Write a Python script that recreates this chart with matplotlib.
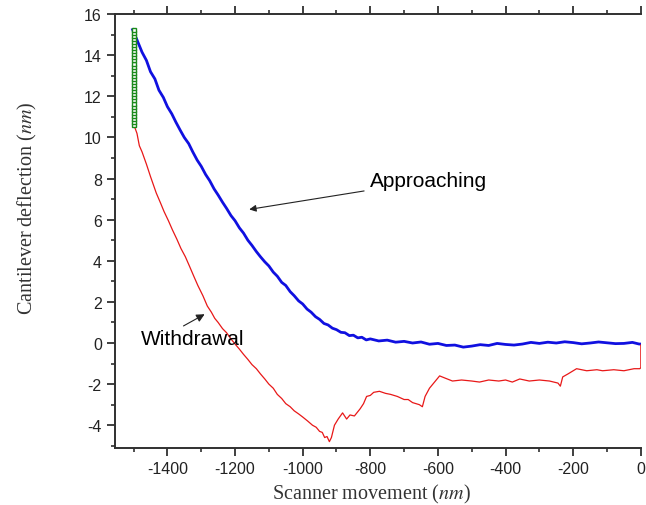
import matplotlib.pyplot as plt

plt.rcParams['font.family'] = ['Liberation Sans', 'DejaVu Sans']
plt.rcParams['mathtext.fontset'] = 'stix'
plt.rcParams['axes.unicode_minus'] = False

# approach curve (blue)
approach_x = [-1503, -1490, -1475, -1462, -1450, -1437, -1425, -1412, -1400, -1387,
              -1375, -1362, -1350, -1337, -1325, -1312, -1300, -1287, -1275, -1262,
              -1250, -1237, -1225, -1212, -1200, -1187, -1175, -1162, -1150, -1137,
              -1125, -1112, -1100, -1087, -1075, -1062, -1050, -1037, -1025, -1012,
              -1000, -987, -975, -962, -950, -937, -925, -912, -900, -887,
              -875, -862, -850, -837, -825, -812, -800, -775, -750, -725,
              -700, -675, -650, -625, -600, -575, -550, -525, -500, -475,
              -450, -425, -400, -375, -350, -325, -300, -275, -250, -225,
              -200, -175, -150, -125, -100, -75, -50, -25, -5, 0]
approach_y = [15.25, 14.75, 14.15, 13.75, 13.2, 12.85, 12.3, 11.95, 11.5, 11.15,
              10.75, 10.35, 10.0, 9.7, 9.3, 8.9, 8.6, 8.2, 7.9, 7.5,
              7.2, 6.85, 6.55, 6.2, 5.95, 5.6, 5.35, 5.0, 4.75, 4.45,
              4.2, 3.95, 3.75, 3.45, 3.25, 2.95, 2.8, 2.5, 2.3, 2.05,
              1.9, 1.65, 1.5, 1.28, 1.15, 0.95, 0.88, 0.72, 0.65, 0.52,
              0.5, 0.36, 0.38, 0.25, 0.28, 0.15, 0.2, 0.1, 0.14, 0.04,
              0.08, 0.0, 0.05, -0.06, -0.02, -0.12, -0.1, -0.2, -0.15, -0.08,
              -0.12, -0.02, -0.07, -0.1, -0.05, 0.03, -0.02, 0.04, 0.0, 0.06,
              0.02, -0.04, 0.0, 0.05, 0.01, -0.03, -0.02, 0.03, -0.05, -0.05]

# withdrawal curve (red)
withdraw_x = [-1500, -1490, -1483, -1475, -1462, -1450, -1433, -1420, -1410, -1397,
              -1385, -1372, -1360, -1347, -1335, -1322, -1310, -1295, -1282, -1270,
              -1260, -1250, -1237, -1225, -1212, -1200, -1187, -1175, -1162, -1150,
              -1137, -1125, -1112, -1100, -1087, -1075, -1062, -1050, -1037, -1025,
              -1012, -1000, -985, -971, -960, -950, -942, -935, -928, -921,
              -915, -906, -895, -882, -870, -860, -847, -830, -820, -811,
              -800, -790, -773, -755, -740, -720, -700, -688, -675, -665,
              -655, -646, -638, -625, -610, -595, -580, -557, -530, -500,
              -477, -450, -420, -400, -380, -358, -330, -300, -270, -245,
              -238, -231, -215, -200, -190, -160, -130, -113, -80, -50,
              -20, -3, 0, 0]
withdraw_y = [10.65, 10.2, 9.6, 9.3, 8.7, 8.1, 7.3, 6.8, 6.4, 5.95,
              5.5, 5.05, 4.6, 4.2, 3.75, 3.25, 2.8, 2.3, 1.8, 1.5,
              1.2, 1.0, 0.7, 0.5, 0.2, -0.05, -0.3, -0.55, -0.8, -1.05,
              -1.25, -1.5, -1.75, -2.0, -2.2, -2.5, -2.7, -2.95, -3.1, -3.3,
              -3.45, -3.6, -3.8, -4.0, -4.1, -4.3, -4.35, -4.6, -4.55, -4.8,
              -4.6, -4.0, -3.7, -3.4, -3.7, -3.5, -3.55, -3.2, -2.95, -2.6,
              -2.55, -2.4, -2.35, -2.45, -2.5, -2.6, -2.75, -2.75, -2.9, -2.95,
              -3.0, -3.1, -2.6, -2.2, -1.9, -1.6, -1.7, -1.85, -1.8, -1.85,
              -1.9, -1.8, -1.85, -1.8, -1.9, -1.75, -1.85, -1.8, -1.85, -1.95,
              -2.1, -1.65, -1.5, -1.35, -1.25, -1.35, -1.3, -1.35, -1.3, -1.35,
              -1.25, -1.25, -1.2, -0.1]

# green marker column at the turning point
turn_x = [-1500] * 32
turn_y = [10.6, 10.75, 10.9, 11.05, 11.2, 11.35, 11.5, 11.65, 11.8, 11.95,
          12.1, 12.25, 12.4, 12.55, 12.7, 12.85, 13.0, 13.15, 13.3, 13.45,
          13.6, 13.75, 13.9, 14.05, 14.2, 14.35, 14.5, 14.65, 14.8, 14.95,
          15.1, 15.25]

fig = plt.figure(figsize=(6.46, 5.06), dpi=100)
ax = fig.add_axes([0.178, 0.113, 0.814, 0.857])

ax.plot(approach_x, approach_y, color='#1010e0', lw=2.0)
ax.plot(withdraw_x, withdraw_y, color='#e81818', lw=0.9)
ax.plot(turn_x, turn_y, 's', color='#1a8a1a', mfc='white', ms=3, mew=1)

ax.set_xlim(-1555, 0)
ax.set_ylim(-5.1, 16)
ax.set_xticks([-1400, -1200, -1000, -800, -600, -400, -200, 0])
ax.set_xticks(range(-1500, 0, 200), minor=True)
ax.set_yticks([-4, -2, 0, 2, 4, 6, 8, 10, 12, 14, 16])
ax.set_yticks(range(-5, 16, 2), minor=True)

ax.spines['right'].set_visible(False)
for s in ['left', 'bottom', 'top']:
    ax.spines[s].set_linewidth(1.4)
    ax.spines[s].set_color('#303030')
ax.tick_params(which='major', direction='out', length=6, width=1.3,
               labelsize=11.5, top=True, right=False, colors='#303030',
               labelcolor='#222222')
ax.tick_params(which='minor', direction='out', length=3, width=1.2,
               top=True, right=False, colors='#303030')

ax.set_xlabel(r'Scanner movement ($\mathit{nm}$)', family='Liberation Serif',
              fontsize=14.5, color='#333333')
ax.set_ylabel(r'Cantilever deflection ($\mathit{nm}$)', family='Liberation Serif',
              fontsize=14.5, color='#333333')
ax.xaxis.set_label_coords(0.487, -0.078)
ax.yaxis.set_label_coords(-0.144, 0.555)

ax.annotate('Approaching', xy=(-1158, 6.5), xytext=(-802, 7.9),
            fontsize=15, va='center', ha='left',
            arrowprops=dict(arrowstyle='-|>', color='#222222', lw=0.8,
                            mutation_scale=10, shrinkA=2, shrinkB=0))
ax.annotate('Withdrawal', xy=(-1290, 1.4), xytext=(-1478, 0.2),
            fontsize=15, va='center', ha='left',
            arrowprops=dict(arrowstyle='-|>', color='#222222', lw=0.8,
                            mutation_scale=12, relpos=(0.35, 1.0),
                            shrinkA=1, shrinkB=0))

fig.savefig('out.png', dpi=100)
